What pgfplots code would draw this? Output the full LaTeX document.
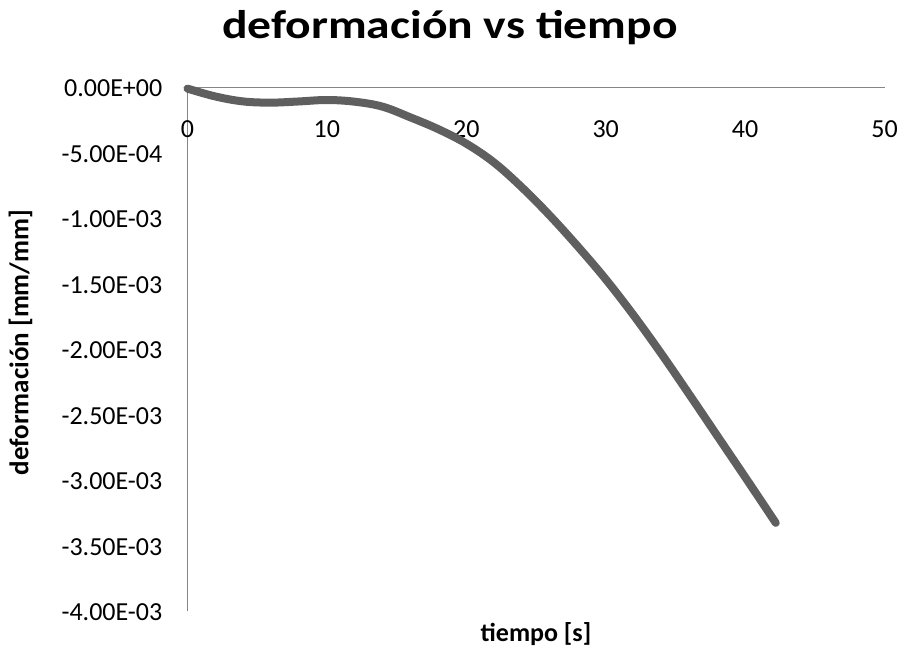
\documentclass[border=0pt]{standalone}
\usepackage{fontspec}
\setmainfont{Carlito}
\usepackage{graphicx}
\usepackage{pgfplots}
\pgfplotsset{compat=1.18}
\definecolor{curve}{RGB}{95,95,95}
\definecolor{axgray}{RGB}{134,134,134}
\begin{document}
\begin{tikzpicture}
\begin{axis}[
  name=ax,
  scale only axis,
  width=697pt, height=524pt,
  xmin=0, xmax=50, ymin=-0.004, ymax=0,
  enlargelimits=false,
  clip=false,
  axis x line=top,
  axis y line=left,
  axis line style={-, axgray, line width=1.2pt},
  major tick length=0pt,
  xtick={0,10,20,30,40,50},
  ytick={0,-0.0005,-0.001,-0.0015,-0.002,-0.0025,-0.003,-0.0035,-0.004},
  yticklabels={0.00E+00,-5.00E-04,-1.00E-03,-1.50E-03,-2.00E-03,-2.50E-03,-3.00E-03,-3.50E-03,-4.00E-03},
  scaled y ticks=false,
  /pgf/number format/assume math mode=true,
  tick label style={font=\fontsize{26}{30}\selectfont},
  xticklabel style={anchor=center, inner sep=0pt, yshift=-42pt},
  yticklabel style={anchor=east, inner sep=0pt, xshift=-25pt, yshift=-1pt},
  title={\scalebox{1.19}[1]{deformación vs tiempo}},
  title style={font=\fontsize{40}{46}\selectfont\bfseries, at={(axis description cs:0.3766,1.081)}, anchor=base, inner sep=0pt},
  xlabel={tiempo [s]},
  xlabel style={font=\fontsize{26}{30}\selectfont\bfseries, at={(axis description cs:0.5,-0.0578)}, anchor=base, inner sep=0pt},
  ylabel={deformación [mm/mm]},
  ylabel style={font=\fontsize{27}{30}\selectfont\bfseries, at={(axis description cs:-0.2396,0.513)}, anchor=center, inner sep=0pt},
]
\addplot[curve, line width=8pt, line cap=round, line join=round, smooth, tension=0.6] coordinates {
(0,-0.00001) (2,-0.00007) (4,-0.000108) (6,-0.000117) (8,-0.000108) (10,-0.000097)
(12,-0.00011) (14,-0.000148) (16,-0.00023) (18,-0.00032) (20,-0.00043)
(22,-0.000575) (24,-0.000765) (26,-0.00098) (28,-0.001215) (30,-0.001465)
(32,-0.00174) (34,-0.002035) (36,-0.002345) (38,-0.00266) (40,-0.002975) (42.2,-0.003325)
};
\end{axis}
\path ([xshift=-187.5pt,yshift=-37.3pt]ax.south west) rectangle ([xshift=17.5pt,yshift=87.3pt]ax.north east);
\end{tikzpicture}
\end{document}
